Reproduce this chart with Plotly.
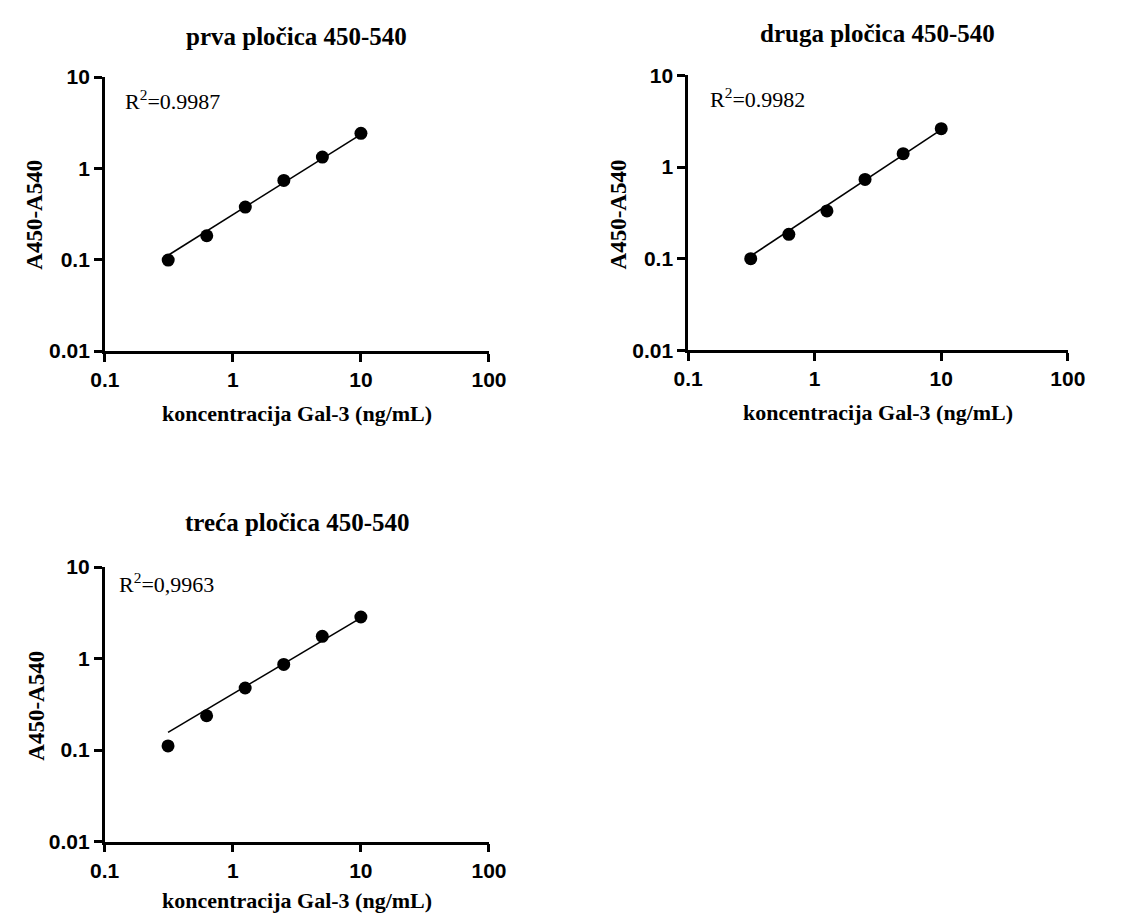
import plotly.graph_objects as go

# ---- data ----
conc = [0.3125, 0.625, 1.25, 2.5, 5, 10]
titles = ["prva pločica 450-540", "druga pločica 450-540", "treća pločica 450-540"]
y_plate1 = [0.099, 0.183, 0.377, 0.738, 1.33, 2.42]
y_plate2 = [0.100, 0.1845, 0.332, 0.733, 1.40, 2.62]
y_plate3 = [0.111, 0.237, 0.477, 0.863, 1.75, 2.85]
fit_x = [0.3125, 10]
fit_plate1 = [0.112, 2.36]
fit_plate2 = [0.107, 2.56]
fit_plate3 = [0.156, 2.79]
r2_labels = ["R<sup>2</sup>=0.9987", "R<sup>2</sup>=0.9982", "R<sup>2</sup>=0,9963"]
x_tickvals = [0.1, 1, 10, 100]
x_ticktext = ["0.1", "1", "10", "100"]
y_tickvals = [0.01, 0.1, 1, 10]
y_ticktext = ["0.01", "0.1", "1", "10"]
x_title = "koncentracija Gal-3 (ng/mL)"
y_title = "A450-A540"

W, H = 1148, 923
# panel pixel boxes: (left, right, top, bottom)
boxes = [(92.5, 488.0, 66.7, 347.7), (693.0, 1084.0, 65.0, 347.0), (92.3, 488.0, 569.3, 850.7)]
title_y = [25.0, 21.7, 523.3]
xtitle_y = [411.5, 410.8, 911.7]
ytitle_pos = [(20.5, 208.0), (621.5, 208.0), (22.0, 711.0)]
r2_pos = [(111.7, 90.0), (713.3, 88.0), (105.0, 586.0)]

series = [y_plate1, y_plate2, y_plate3]
fits = [fit_plate1, fit_plate2, fit_plate3]

fig = go.Figure()
annotations = []
SERIF = "Liberation Serif"
SANS = "Liberation Sans"


def px(x):
    return x / W


def py(y):
    return 1 - y / H


for i in range(3):
    n = "" if i == 0 else str(i + 1)
    xa, ya = "x" + n, "y" + n
    l, r, t, b = boxes[i]
    fig.add_trace(go.Scatter(x=fit_x, y=fits[i], mode="lines",
                             line=dict(color="black", width=1.6),
                             xaxis=xa, yaxis=ya, showlegend=False, hoverinfo="skip"))
    fig.add_trace(go.Scatter(x=conc, y=series[i], mode="markers",
                             marker=dict(color="black", size=13),
                             xaxis=xa, yaxis=ya, showlegend=False))
    axis_common = dict(type="log", showgrid=False, zeroline=False, showline=True,
                       linecolor="black", linewidth=2.6, ticks="outside", ticklen=8,
                       tickwidth=2.6, tickcolor="black",
                       tickfont=dict(family=SANS, size=21, color="black", weight="bold"))
    fig.update_layout({
        "xaxis" + n: dict(axis_common, domain=[px(l), px(r)], range=[-1, 2],
                          tickvals=x_tickvals, ticktext=x_ticktext, anchor=ya),
        "yaxis" + n: dict(axis_common, domain=[py(b), py(t)], range=[-2, 1],
                          tickvals=y_tickvals, ticktext=y_ticktext, anchor=xa),
    })
    annotations.append(dict(text="<b>" + titles[i] + "</b>", xref="paper", yref="paper",
                            x=px((l + r) / 2), y=py(title_y[i]), xanchor="center", yanchor="middle",
                            showarrow=False, font=dict(family=SERIF, size=25, color="black")))
    annotations.append(dict(text="<b>" + x_title + "</b>", xref="paper", yref="paper",
                            x=px((l + r) / 2), y=py(xtitle_y[i]), xanchor="center", yanchor="middle",
                            showarrow=False, font=dict(family=SERIF, size=22, color="black")))
    annotations.append(dict(text="<b>" + y_title + "</b>", xref="paper", yref="paper",
                            x=px(ytitle_pos[i][0]), y=py(ytitle_pos[i][1]),
                            xanchor="center", yanchor="middle", textangle=-90,
                            showarrow=False, font=dict(family=SERIF, size=23, color="black")))
    annotations.append(dict(text=r2_labels[i], xref="paper", yref="paper",
                            x=px(r2_pos[i][0]), y=py(r2_pos[i][1]), xanchor="left", yanchor="middle",
                            showarrow=False, font=dict(family=SERIF, size=22, color="black")))

fig.update_layout(width=W, height=H, margin=dict(l=0, r=0, t=0, b=0),
                  paper_bgcolor="white", plot_bgcolor="white",
                  annotations=annotations, showlegend=False)

fig.write_html("out.html", config={"displayModeBar": False},
               post_script="document.body.style.margin='0px';")
